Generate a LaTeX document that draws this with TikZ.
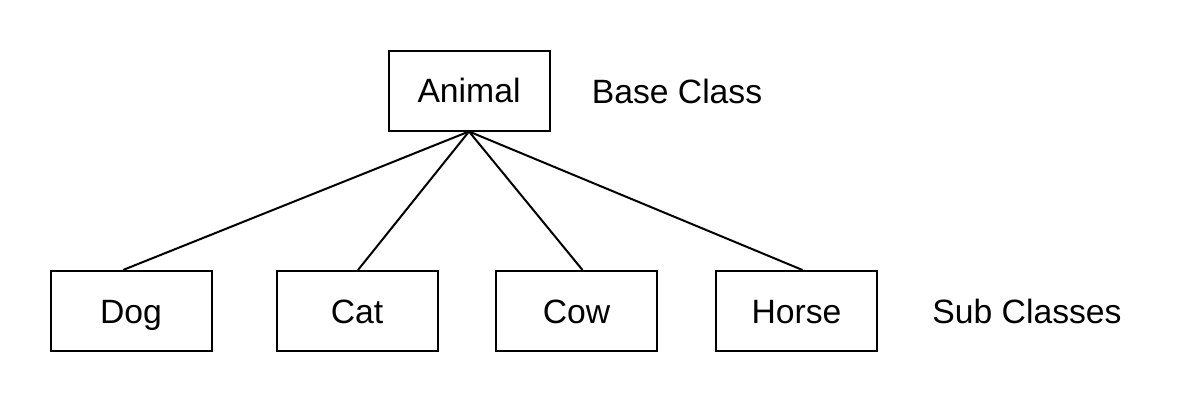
\documentclass[tikz,border=0pt]{standalone}
\usepackage{fontspec}
\setmainfont{Liberation Sans}
\usetikzlibrary{calc}

\begin{document}
\begin{tikzpicture} [x=1pt, y=-1pt, font=\fontsize{33.7}{40}\selectfont,
  classbox/.style={draw, line width=2pt, minimum width=161pt, minimum height=80pt, inner sep=0pt, text height=24pt, text depth=0pt},
  link/.style={line width=2pt}]
\useasboundingbox (0,0) rectangle (1188,402);
\node[classbox] (animal) at (469,90.5) {Animal};
\node[anchor=base] (base) at (677,103) {Base Class};
\foreach \name/\txt/\x/\dx in {dog/Dog/131/-8, cat/Cat/357/1, cow/Cow/576.5/6, horse/Horse/796.5/6} {
 \node[classbox] (\name) at (\x,311) {\txt};
 \draw[link] (animal.south)--([xshift=\dx pt]\name.north);
}
\node[anchor=base] (sub) at (1027,323) {Sub Classes};
\end{tikzpicture}
\end{document}
